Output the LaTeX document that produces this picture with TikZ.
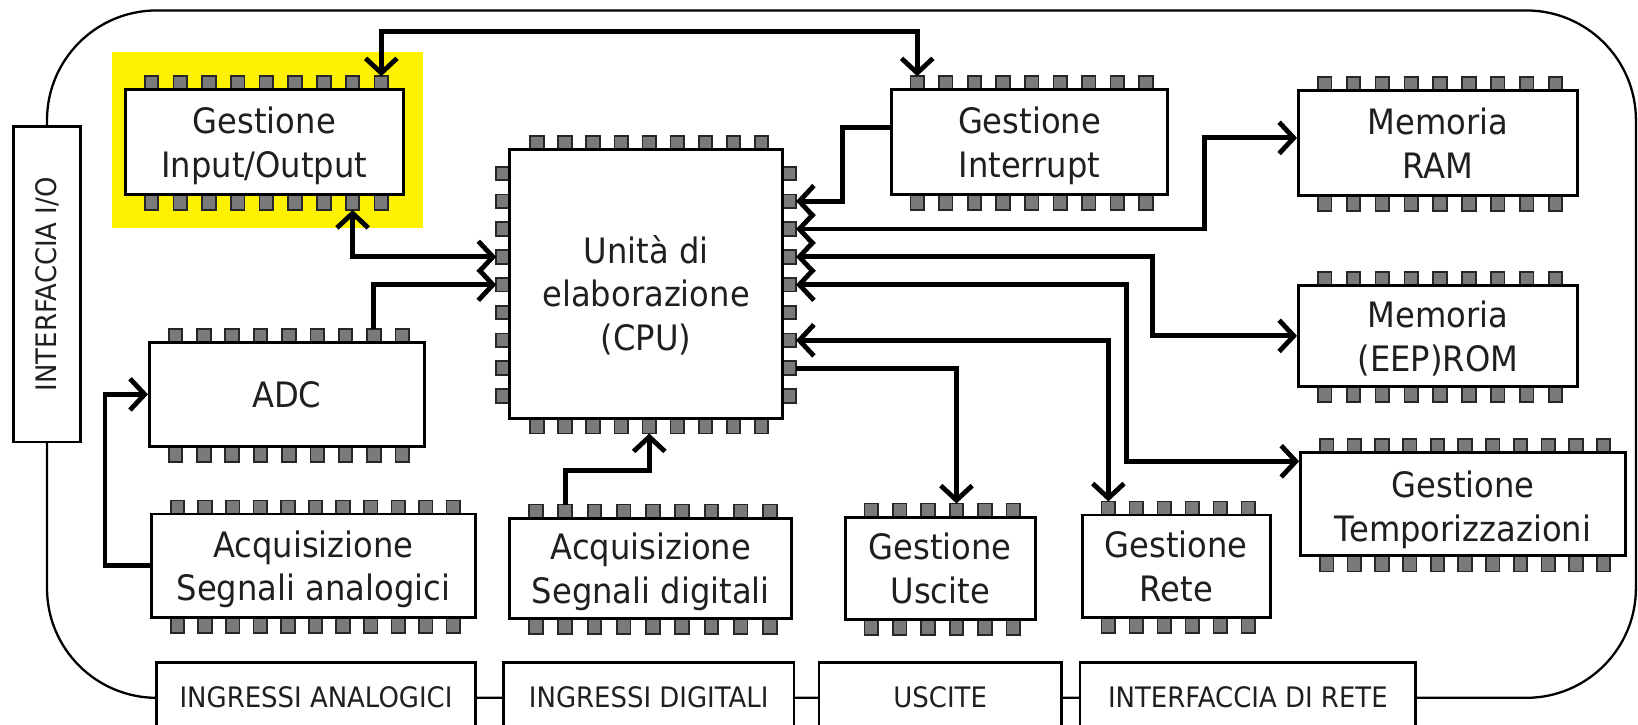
\documentclass[tikz,border=0pt]{standalone}
\usepackage{fontspec}
\setmainfont{DejaVu Sans}[FakeStretch=0.92]
\usetikzlibrary{arrows.meta,calc}
\newcommand\chipfont{\fontsize{33.5}{42}\selectfont}
\newcommand\iofont{\fontsize{27}{32}\selectfont}
\newcommand\topstrut{\rule{0pt}{34.5pt}}
\newcommand\botstrut{\rule[-9pt]{0pt}{9pt}}
\tikzset{
  chipbody/.style={draw=black, line width=2.8pt, fill=white, inner sep=0pt, align=center, font=\chipfont, text=black!88},
  pinbox/.style={draw=black!85, fill=black!52, line width=1.7pt},
  conn/.style={line width=4.6pt, >={Straight Barb[length=14pt,width=30pt]}},
  framebox/.style={line width=2.2pt},
  iobox/.style={draw, line width=2.5pt, fill=white, font=\iofont, inner sep=0pt, text=black!88}
}
% #1 name, #2 cx, #3 cy, #4 width, #5 height, #6 pins per side, #7 text
\newcommand\chip[7]{%
  \foreach \i in {1,...,#6}{%
    \pgfmathsetmacro\chipX{#2-#4/2+25+(\i-1)*(#4-46)/(#6-1)}%
    \pgfmathsetmacro\chipT{#3-#5/2}%
    \pgfmathsetmacro\chipB{#3+#5/2}%
    \draw[pinbox] (\chipX-6.5,\chipT-13) rectangle (\chipX+6.5,\chipT);
    \draw[pinbox] (\chipX-6.5,\chipB) rectangle (\chipX+6.5,\chipB+15);
    \coordinate (#1-t\i) at (\chipX,\chipT-13);
    \coordinate (#1-b\i) at (\chipX,\chipB+15);
  }%
  \node[chipbody,minimum width=#4pt,minimum height=#5pt] (#1) at (#2,#3) {#7};
}
\begin{document}
\begin{tikzpicture}[x=1pt,y=-1pt]
\clip (0,0) rectangle (1568,694);
\fill[white] (0,0) rectangle (1568,694);
% outer frame
\draw[framebox, rounded corners=105pt] (45,10) rectangle (1566,668);
% highlight
\fill[yellow] (107,50) rectangle (405,218);
% chips
\chip{io}{253}{136}{266}{100}{9}{\topstrut Gestione\\Input/Output\botstrut}
\chip{int}{985.5}{136}{265}{100}{9}{\topstrut Gestione\\Interrupt\botstrut}
\chip{ram}{1376.5}{137}{267}{100}{9}{\topstrut Memoria\\RAM\botstrut}
\chip{eep}{1376.5}{321.5}{267}{97}{9}{\topstrut Memoria\\(EEP)ROM\botstrut}
\chip{temp}{1400.5}{482.5}{311}{99}{11}{\rule{0pt}{38pt}Gestione\\Temporizzazioni\botstrut}
\chip{adc}{274.5}{377.5}{263}{99}{9}{ADC}
\chip{acqa}{300}{541.5}{310}{99}{11}{\topstrut Acquisizione\\Segnali analogici\botstrut}
\chip{acqd}{623}{544}{270}{96}{9}{\topstrut Acquisizione\\Segnali digitali\botstrut}
\chip{usc}{900}{544}{182}{98}{6}{\topstrut Gestione\\Uscite\botstrut}
\chip{rete}{1126}{542}{180}{98}{6}{\topstrut Gestione\\Rete\botstrut}
% CPU
\foreach \i in {1,...,9}{%
  \pgfmathsetmacro\chipX{488+26+(\i-1)*(261-46)/8}%
  \pgfmathsetmacro\chipY{143+23+(\i-1)*(258-45)/8}%
  \draw[pinbox] (\chipX-6.5,130) rectangle (\chipX+6.5,143);
  \draw[pinbox] (\chipX-6.5,401) rectangle (\chipX+6.5,415);
  \draw[pinbox] (475,\chipY-6.5) rectangle (488,\chipY+6.5);
  \draw[pinbox] (749,\chipY-6.5) rectangle (762,\chipY+6.5);
  \coordinate (cpu-t\i) at (\chipX,130);
  \coordinate (cpu-b\i) at (\chipX,415);
  \coordinate (cpu-l\i) at (475,\chipY);
  \coordinate (cpu-r\i) at (762,\chipY);
}
\node[chipbody,minimum width=261pt,minimum height=258pt] (cpu) at (618.5,272) {\rule{0pt}{48pt}Unità di\\elaborazione\\(CPU)};
% interface boxes
\node[iobox,rotate=90,minimum width=302pt,minimum height=64pt] (iio) at (45,272) {INTERFACCIA I/O};
\node[iobox,minimum width=305pt,minimum height=66pt] (ina) at (302.5,667) {INGRESSI ANALOGICI};
\node[iobox,minimum width=278pt,minimum height=66pt] (ind) at (621,667) {INGRESSI DIGITALI};
\node[iobox,minimum width=232pt,minimum height=66pt] (iusc) at (900,667) {USCITE};
\node[iobox,minimum width=321pt,minimum height=66pt] (irete) at (1194.5,667) {INTERFACCIA DI RETE};
% connectors
\coordinate (topy) at (0,30);
\draw[conn,<->] (io-t9) -- (io-t9 |- topy) -| (int-t1);
\draw[conn,<->] (io-b8) |- (cpu-l4);
\draw[conn,->] (adc-t8) |- (cpu-l5);
\draw[conn,->] (acqa.west) -- ++(-43,0) |- (adc.west);
\coordinate (dj) at (0,450);
\draw[conn,->] (acqd-t2) -- (acqd-t2 |- dj) -| (cpu-b5);
\draw[conn,->] ([yshift=14pt]int.west) -- ++(-45,0) |- (cpu-r2);
\coordinate (xram) at (1153,0);
\draw[conn,<->] (cpu-r3) -- (cpu-r3 -| xram) |- ([yshift=5pt]ram.west);
\coordinate (xeep) at (1103,0);
\draw[conn,<->] (cpu-r4) -- (cpu-r4 -| xeep) |- (eep.west);
\coordinate (xtmp) at (1078,0);
\draw[conn,<->] (cpu-r5) -- (cpu-r5 -| xtmp) |- ([yshift=-10pt]temp.north west);
\draw[conn,<->] (cpu-r7) -| (rete-t1);
\draw[conn,->] (cpu-r8) -| (usc-t4);
\end{tikzpicture}
\end{document}
